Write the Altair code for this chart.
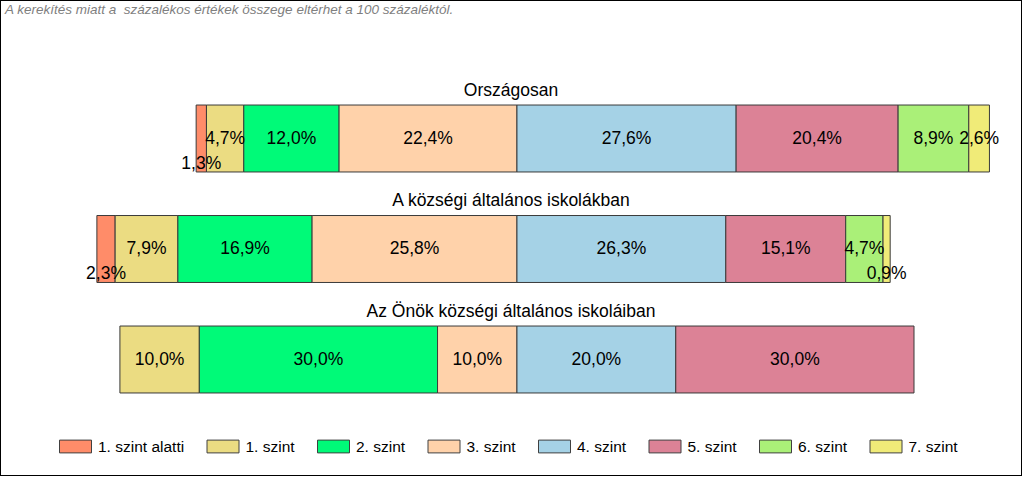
import altair as alt
import pandas as pd

groups = ["Országosan", "A községi általános iskolákban", "Az Önök községi általános iskoláiban"]
levels = ["1. szint alatti", "1. szint", "2. szint", "3. szint", "4. szint", "5. szint", "6. szint", "7. szint"]
orszagos = [1.3, 4.7, 12.0, 22.4, 27.6, 20.4, 8.9, 2.6]
kozsegi = [2.3, 7.9, 16.9, 25.8, 26.3, 15.1, 4.7, 0.9]
onok = [0.0, 10.0, 30.0, 10.0, 20.0, 30.0, 0.0, 0.0]
colors = ["#FF8C69", "#EBDC82", "#00FA78", "#FFD2AA", "#A5D2E6", "#DC8296", "#AAF078", "#F0EB78"]
note = "A kerekítés miatt a\u00a0 százalékos értékek összege eltérhet a 100 százaléktól."

rows = []
for g, vals in zip(groups, [orszagos, kozsegi, onok]):
    left = sum(vals[:4])
    cum = -left
    for lev, v in zip(levels, vals):
        start, end = cum, cum + v
        cum = end
        if v <= 0:
            continue
        rows.append({
            "group": g, "level": lev, "value": v,
            "start": start, "end": end, "mid": (start + end) / 2,
            "label": f"{v:.1f}".replace(".", ",") + "%",
            "small": v < 2.5,
        })
df = pd.DataFrame(rows)
gdf = pd.DataFrame({"group": groups})
ndf = pd.DataFrame({"t": [note]})

FONT = "Liberation Sans"
W, H = 1022, 476

xscale = alt.Scale(domain=[-65.1, 63.6], nice=False, zero=False)
yscale = alt.Scale(domain=groups, range=[83.25, 414.75], paddingInner=0.394, paddingOuter=0.197)
Y = alt.Y("group:N", sort=groups, scale=yscale, axis=None)

bars = alt.Chart(df).mark_bar(stroke="#3a3a3a", strokeWidth=1, opacity=1).encode(
    x=alt.X("start:Q", scale=xscale, axis=None),
    x2="end:Q",
    y=Y,
    color=alt.Color(
        "level:N",
        scale=alt.Scale(domain=levels, range=colors),
        legend=alt.Legend(
            title=None, orient="none", legendX=59, legendY=430,
            direction="horizontal", columns=8,
            symbolType="M-1,-0.4L1,-0.4L1,0.4L-1,0.4Z", symbolSize=1024,
            symbolStrokeColor="#404040", symbolStrokeWidth=1, symbolOpacity=1,
            labelFont=FONT, labelFontSize=15.5, labelColor="#000000",
            labelOffset=6, columnPadding=19.5, padding=0, labelLimit=300,
        ),
    ),
)

labels = alt.Chart(df).transform_filter("!datum.small").mark_text(
    font=FONT, fontSize=17.5, color="#000000", baseline="middle", align="center"
).encode(x=alt.X("mid:Q", scale=xscale), y=Y, text="label:N")

small_labels = alt.Chart(df).transform_filter("datum.small").mark_text(
    font=FONT, fontSize=17.5, color="#000000", baseline="middle", align="center", dy=25
).encode(x=alt.X("mid:Q", scale=xscale), y=Y, text="label:N")

titles = alt.Chart(gdf).mark_text(
    font=FONT, fontSize=17.5, color="#000000", baseline="middle", align="center", dy=-48
).encode(x=alt.value(W / 2), y=Y, text="group:N")

note_text = alt.Chart(ndf).mark_text(
    font=FONT, fontSize=13.5, fontStyle="italic", color="#7f7f7f", align="left", baseline="middle"
).encode(x=alt.value(5), y=alt.value(10), text="t:N")

chart = alt.layer(bars, labels, small_labels, titles, note_text).properties(
    width=W, height=H, autosize=alt.AutoSizeParams(type="none"), padding=0,
    background="#ffffff",
).configure_view(stroke="#000000", strokeWidth=2, fill="#ffffff")

chart.save("out.html", embed_options={"renderer": "svg", "actions": False})
